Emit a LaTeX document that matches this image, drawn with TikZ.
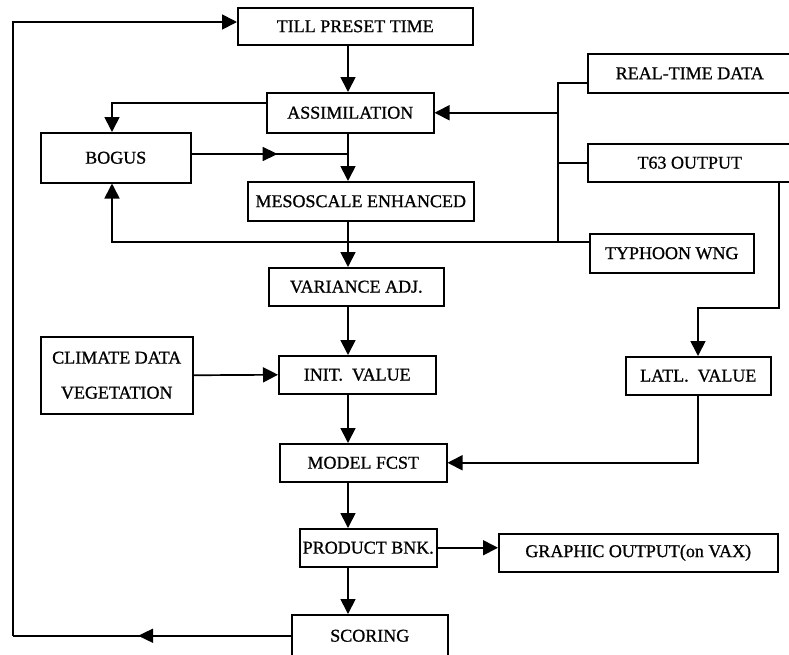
\documentclass[tikz,border=0pt]{standalone}
\usepackage{fontspec}
\setmainfont{Liberation Serif}
\newfontfamily\boxfont[FakeBold=0.9]{Liberation Serif}
\usetikzlibrary{arrows.meta,decorations.markings}
\begin{document}
\begin{tikzpicture}[x=1pt,y=-1pt,
  box/.style={draw,line width=1.5pt,anchor=north west,inner sep=0pt,font=\boxfont\fontsize{18}{35}\selectfont,align=center},
  ln/.style={line width=1.7pt},
  arr/.style={ln,-{Triangle[length=15pt,width=15pt]}},
  midarr/.style={ln,postaction={decorate},decoration={markings,mark=at position 0.55 with {\arrow{Triangle[length=15pt,width=14pt]}}}}]
\useasboundingbox (0,0) rectangle (789,654);
% boxes
\node[box,minimum width=235pt,minimum height=37pt] (till) at (237,7) {TILL PRESET TIME};
\node[box,minimum width=167pt,minimum height=40pt] (assim) at (266,92) {ASSIMILATION};
\node[box,minimum width=150pt,minimum height=50pt] (bogus) at (40,132) {BOGUS};
\node[box,minimum width=226pt,minimum height=39pt] (meso) at (247,181) {MESOSCALE ENHANCED};
\node[box,minimum width=175pt,minimum height=38pt] (variance) at (268,267) {VARIANCE ADJ.};
\node[box,minimum width=157pt,minimum height=38pt] (init) at (278,355) {INIT.\ \ VALUE};
\node[box,minimum width=152pt,minimum height=77pt] (climate) at (40,336) {CLIMATE DATA\\VEGETATION};
\node[box,minimum width=167pt,minimum height=38pt] (model) at (279,443) {MODEL FCST};
\node[box,minimum width=137pt,minimum height=38pt] (product) at (299,528) {PRODUCT BNK.};
\node[box,minimum width=156pt,minimum height=42pt] (scoring) at (291,614) {SCORING};
\node[box,minimum width=279pt,minimum height=38pt] (graphic) at (498,533) {GRAPHIC OUTPUT(on VAX)};
\node[box,minimum width=204pt,minimum height=39pt] (realtime) at (587,53) {REAL-TIME DATA};
\node[box,minimum width=204pt,minimum height=38pt] (t63) at (587,143) {T63 OUTPUT};
\node[box,minimum width=164pt,minimum height=39pt] (typhoon) at (589,233) {TYPHOON WNG};
\node[box,minimum width=145pt,minimum height=38pt] (latl) at (625,356) {LATL.\ \ VALUE};
% helper coordinates
\coordinate (sp) at (348,0);
\coordinate (bx) at (112,0);
\coordinate (bus) at (558,0);
\coordinate (tx) at (779,0);
\coordinate (lx) at (698,0);
\coordinate (fx) at (13,0);
\coordinate (a1) at (0,103);
\coordinate (b1) at (0,154);
\coordinate (r1) at (0,83);
\coordinate (y1) at (0,242);
\coordinate (k1) at (0,308);
\coordinate (tl) at (0,22);
% main spine
\draw[arr] (till.south -| sp) -- (assim.north -| sp);
\draw[arr] (assim.south -| sp) -- (meso.north -| sp);
\draw[arr] (meso.south -| sp) -- (variance.north -| sp);
\draw[arr] (variance.south -| sp) -- (init.north -| sp);
\draw[arr] (init.south -| sp) -- (model.north -| sp);
\draw[arr] (model.south -| sp) -- (product.north -| sp);
\draw[arr] (product.south -| sp) -- (scoring.north -| sp);
% assimilation to bogus
\draw[arr] (assim.west |- a1) -- (bx |- a1) -- (bx |- bogus.north);
% bogus to spine
\draw[midarr] (bogus.east |- b1) -- (sp |- b1);
% right bus
\draw[ln] (realtime.west |- r1) -- (bus |- r1) -- (bus |- y1) -- (typhoon.west |- y1);
\draw[ln] (t63.west) -- (bus |- t63.west);
\draw[arr] (bus |- assim.east) -- (assim.east);
% typhoon to bogus
\draw[arr] (typhoon.west |- y1) -- (bx |- y1) -- (bx |- bogus.south);
% climate to init
\draw[arr] (climate.east) -- (init.west);
% t63 to latl
\draw[arr] (tx |- t63.south) -- (tx |- k1) -- (lx |- k1) -- (lx |- latl.north);
% latl to model
\draw[arr] (lx |- latl.south) -- (lx |- model.east) -- (model.east);
% product to graphic
\draw[arr] (product.east) -- (graphic.west |- product.east);
% scoring feedback
\draw[midarr] (scoring.west) -- (fx |- scoring.west);
\draw[arr] (fx |- scoring.west) -- (fx |- tl) -- (till.west |- tl);
\end{tikzpicture}
\end{document}
